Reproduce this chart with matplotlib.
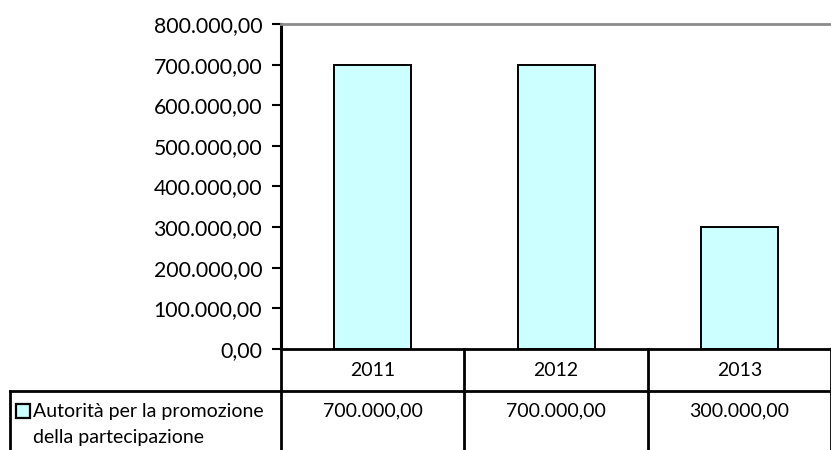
import matplotlib.pyplot as plt
from matplotlib.lines import Line2D
from matplotlib.patches import Rectangle
from matplotlib.ticker import FuncFormatter

years = ['2011', '2012', '2013']
values = [700000, 700000, 300000]
series_name = 'Autorità per la promozione\ndella partecipazione'
y_ticks = [0, 100000, 200000, 300000, 400000, 500000, 600000, 700000, 800000]

BAR_COLOR = '#CCFFFF'
W, H = 831, 450


def it_format(v, pos=None):
    s = f'{v:,.2f}'
    return s.replace(',', 'X').replace('.', ',').replace('X', '.')


plt.rcParams['font.family'] = ['Lato', 'DejaVu Sans']
plt.rcParams['font.size'] = 14

fig = plt.figure(figsize=(W / 100, H / 100), dpi=100)
left, right, top, bottom = 281, 831, 24, 349
ax = fig.add_axes([left / W, 1 - bottom / H, (right - left) / W, (bottom - top) / H])

x = range(len(years))
ax.bar(x, values, width=0.42, color=BAR_COLOR, edgecolor='black', linewidth=1.4)
ax.set_xlim(-0.5, len(years) - 0.5)
ax.set_ylim(0, 800000)
ax.set_yticks(y_ticks)
ax.yaxis.set_major_formatter(FuncFormatter(it_format))
ax.tick_params(axis='y', direction='out', length=6.5, width=1.5, pad=7, labelsize=15.3)
ax.set_xticks([])

for side in ['right', 'bottom']:
    ax.spines[side].set_visible(False)
ax.spines['left'].set_linewidth(2.2)
ax.spines['top'].set_color('#8c8c8c')
ax.spines['top'].set_linewidth(2)


def fig_line(x0, y0, x1, y1):
    fig.add_artist(Line2D([x0 / W, x1 / W], [1 - y0 / H, 1 - y1 / H],
                          transform=fig.transFigure, color='black', linewidth=2))


# data table grid
col_edges = [left + i * (right - left) / len(years) for i in range(len(years) + 1)]
fig_line(left, bottom, W, bottom)
fig_line(10, 391, W, 391)
fig_line(10, 391, 10, H)
for cx in col_edges:
    fig_line(cx, bottom, cx, H)

for i, (yr, v) in enumerate(zip(years, values)):
    cx = (col_edges[i] + col_edges[i + 1]) / 2
    fig.text(cx / W, 1 - 370 / H, yr, ha='center', va='center')
    fig.text(cx / W, 1 - 411 / H, it_format(v), ha='center', va='center')

# legend key in table
fig.add_artist(Rectangle((16 / W, 1 - 418 / H), 14 / W, 14 / H, transform=fig.transFigure,
                         facecolor=BAR_COLOR, edgecolor='black', linewidth=1.6))
name_lines = series_name.split('\n')
fig.text(33 / W, 1 - 411 / H, name_lines[0], ha='left', va='center')
fig.text(33 / W, 1 - 438 / H, name_lines[1], ha='left', va='center')

fig.savefig('out.png', dpi=100)
